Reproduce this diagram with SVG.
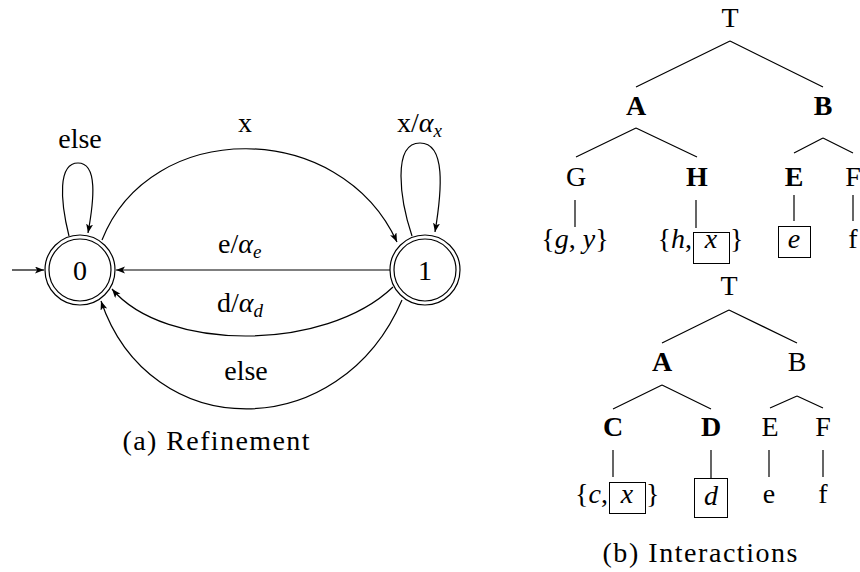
<svg xmlns="http://www.w3.org/2000/svg" width="860" height="572" viewBox="0 0 860 572" font-family="Liberation Serif, Tinos, DejaVu Serif, serif">
<style>
text{font-family:Liberation Serif, Tinos, DejaVu Serif, serif;font-size:28px;fill:#000}
.m{text-anchor:middle}
.b{font-weight:bold}
.i{font-style:italic}
.sub{font-style:italic;font-size:19px}
.e{fill:none;stroke:#000;stroke-width:1.2}
.t{fill:none;stroke:#000;stroke-width:1.2}
.box{fill:none;stroke:#000;stroke-width:1}
.c{fill:#fff;stroke:#000;stroke-width:1.2}
</style>
<defs>
<marker id="arr" markerUnits="userSpaceOnUse" markerWidth="10" markerHeight="8" refX="9" refY="3.5" orient="auto">
<path d="M0,0 L9,3.5 L0,7 L2.2,3.5 z" fill="#000"/>
</marker>
</defs>

<!-- automaton connectors -->
<g id="connectors-a">
<path class="e" d="M12,270 L44,270" marker-end="url(#arr)"/>
<path class="e" d="M69,236 C60,200 58,163 78,163 C98,163 94,200 88,233" marker-end="url(#arr)"/>
<path class="e" d="M412,236 C400,200 392,143 420,143 C446,143 442,190 435,232" marker-end="url(#arr)"/>
<path class="e" d="M102,240 C150,118 340,118 397,242" marker-end="url(#arr)"/>
<path class="e" d="M390,270 L116,270" marker-end="url(#arr)"/>
<path class="e" d="M393,287 C325,352 165,352 112,289" marker-end="url(#arr)"/>
<path class="e" d="M402,300 C340,445 150,445 101,301" marker-end="url(#arr)"/>
</g>
<g id="edge-labels">
<text class="m" x="80" y="148">else</text>
<text class="m" x="245" y="132">x</text>
<text x="397" y="132">x/<tspan class="i">α</tspan><tspan class="sub" dy="5">x</tspan></text>
<text x="218" y="253">e/<tspan class="i">α</tspan><tspan class="sub" dy="5">e</tspan></text>
<text x="217" y="312">d/<tspan class="i">α</tspan><tspan class="sub" dy="5">d</tspan></text>
<text class="m" x="246" y="380">else</text>
</g>
<g id="state0">
<circle class="c" cx="80" cy="270" r="35"/>
<circle class="c" cx="80" cy="270" r="31"/>
<text class="m" x="80" y="280">0</text>
</g>
<g id="state1">
<circle class="c" cx="425" cy="270" r="35"/>
<circle class="c" cx="425" cy="270" r="31"/>
<text class="m" x="425" y="280">1</text>
</g>
<text class="m" x="216" y="450" textLength="187" lengthAdjust="spacing">(a) Refinement</text>

<!-- tree connectors -->
<g id="connectors-trees">
<path class="t" d="M730,41 L636,87 M730,41 L823,87"/>
<path class="t" d="M636,128 L576,157 M636,128 L697,157"/>
<path class="t" d="M823,138 L794,153 M823,138 L853,153"/>
<path class="t" d="M575,200 L575,227 M696,200 L696,228 M794,195 L794,221 M853,195 L853,221"/>
<path class="t" d="M729,310 L662,343 M729,310 L797,343"/>
<path class="t" d="M662,385 L613,409 M662,385 L711,409"/>
<path class="t" d="M797,396 L770,408 M797,396 L823,408"/>
<path class="t" d="M613,450 L613,477 M711,450 L711,478 M769,450 L769,477 M823,450 L823,477"/>
</g>

<!-- tree 1 -->
<g id="t1-T"><text class="m" x="730" y="27">T</text></g>
<g id="t1-A"><text class="m b" x="636" y="115">A</text></g>
<g id="t1-B"><text class="m b" x="823" y="115">B</text></g>
<g id="t1-G"><text class="m" x="576" y="186">G</text></g>
<g id="t1-H"><text class="m b" x="697" y="186">H</text></g>
<g id="t1-E"><text class="m b" x="794" y="186">E</text></g>
<g id="t1-F"><text class="m" x="853" y="186">F</text></g>
<g id="t1-gy"><text class="m" x="575" y="248">{<tspan class="i">g</tspan>, <tspan class="i">y</tspan>}</text></g>
<g id="t1-hx">
<text x="692" y="248" text-anchor="end">{<tspan class="i">h</tspan>,</text>
<rect class="box" x="693.5" y="232.5" width="36" height="31"/>
<text class="m i" x="711" y="248">x</text>
<text x="730" y="248">}</text>
</g>
<g id="t1-e">
<rect class="box" x="778.5" y="226.5" width="32" height="31"/>
<text class="m i" x="794" y="248">e</text>
</g>
<g id="t1-f"><text class="m" x="853" y="248">f</text></g>

<!-- tree 2 -->
<g id="t2-T"><text class="m" x="729" y="295">T</text></g>
<g id="t2-A"><text class="m b" x="662" y="371">A</text></g>
<g id="t2-B"><text class="m" x="797" y="371">B</text></g>
<g id="t2-C"><text class="m b" x="613" y="436">C</text></g>
<g id="t2-D"><text class="m b" x="711" y="436">D</text></g>
<g id="t2-E"><text class="m" x="770" y="436">E</text></g>
<g id="t2-F"><text class="m" x="823" y="436">F</text></g>
<g id="t2-cx">
<text x="608" y="503" text-anchor="end">{<tspan class="i">c</tspan>,</text>
<rect class="box" x="609.5" y="482.5" width="36" height="31"/>
<text class="m i" x="627" y="503">x</text>
<text x="646" y="503">}</text>
</g>
<g id="t2-d">
<rect class="box" x="694.5" y="478.5" width="33" height="39"/>
<text class="m i" x="711" y="505">d</text>
</g>
<g id="t2-e"><text class="m" x="769" y="503">e</text></g>
<g id="t2-f"><text class="m" x="823" y="503">f</text></g>
<text class="m" x="700" y="562" textLength="195" lengthAdjust="spacing">(b) Interactions</text>
</svg>
